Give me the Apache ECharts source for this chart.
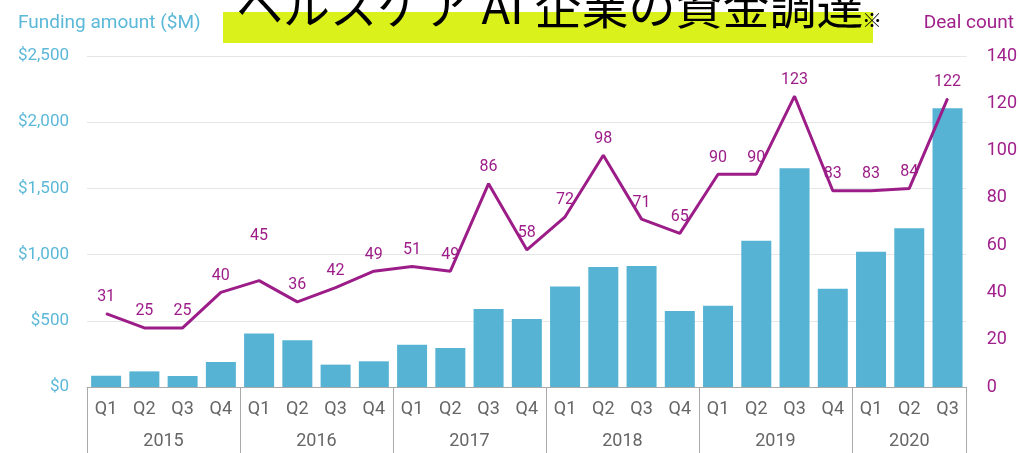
<!DOCTYPE html>
<html>
<head>
<meta charset="utf-8">
<script src="https://cdn.jsdelivr.net/npm/echarts@6/dist/echarts.min.js"></script>
<style>
  html, body { margin: 0; padding: 0; background: #fff; }
  #chart { width: 1020px; height: 453px; }
</style>
</head>
<body>
<div id="chart"></div>
<script>
// 四半期ごとのラベル
const quarters = ['Q1', 'Q2', 'Q3', 'Q4', 'Q1', 'Q2', 'Q3', 'Q4', 'Q1', 'Q2', 'Q3', 'Q4',
  'Q1', 'Q2', 'Q3', 'Q4', 'Q1', 'Q2', 'Q3', 'Q4', 'Q1', 'Q2', 'Q3'];
const years = ['2015', '2016', '2017', '2018', '2019', '2020'];
const quartersPerYear = [4, 4, 4, 4, 4, 3];

// 資金調達額 ($M)
const funding = [85, 118, 83, 189, 405, 353, 169, 194, 320, 295, 589, 514,
  760, 906, 914, 574, 614, 1105, 1652, 742, 1022, 1199, 2105];
// 案件数
const deals = [31, 25, 25, 40, 45, 36, 42, 49, 51, 49, 86, 58,
  72, 98, 71, 65, 90, 90, 123, 83, 83, 84, 122];

const leftTicks = [0, 500, 1000, 1500, 2000, 2500];
const rightTicks = [0, 20, 40, 60, 80, 100, 120, 140];

const blue = '#56b3d4';
const purple = '#9c1d88';
const font = 'Roboto';

// 年の境界（四半期インデックス）と年ラベルの中心位置
const yearStarts = [];
const yearCenters = [];
let acc = 0;
quartersPerYear.forEach(function (n) {
  yearStarts.push(acc);
  yearCenters.push(acc + n / 2);
  acc += n;
});

const chart = echarts.init(document.getElementById('chart'));

const options = {
  animation: false,
  textStyle: { fontFamily: font },
  grid: { left: 87, right: 53, top: 56, bottom: 66 },
  graphic: [
    { type: 'rect', shape: { x: 223, y: 12, width: 650, height: 31 }, style: { fill: '#dbf11b' }, z: 0 },
    { type: 'text', x: 236, y: 6, z: 1,
      style: { text: 'ヘルスケア AI 企業の資金調達', font: '47px "Noto Sans CJK JP"', fill: '#000', verticalAlign: 'middle', align: 'left' } },
    { type: 'text', x: 872, y: 20, z: 1,
      style: { text: '※', font: '20px "Noto Sans CJK JP"', fill: '#000', verticalAlign: 'middle', align: 'center' } },
    { type: 'text', x: 18, y: 23, z: 1,
      style: { text: 'Funding amount ($M)', font: '19px Roboto', fill: '#5bb8d9', verticalAlign: 'middle', align: 'left' } },
    { type: 'text', x: 1014, y: 23, z: 1,
      style: { text: 'Deal count', font: '19px Roboto', fill: '#a0208c', verticalAlign: 'middle', align: 'right' } }
  ],
  xAxis: [
    {
      type: 'category',
      data: quarters,
      position: 'bottom',
      axisLine: { onZero: false, lineStyle: { color: '#aaa', width: 1 } },
      axisTick: {
        show: true,
        length: 66,
        interval: function (index) { return yearStarts.indexOf(index) >= 0; },
        lineStyle: { color: '#aaa', width: 1 }
      },
      axisLabel: { interval: 0, margin: 13, color: '#666', fontSize: 18, fontFamily: font }
    },
    {
      type: 'value',
      position: 'bottom',
      min: 0,
      max: quarters.length,
      interval: 0.5,
      axisLine: { show: false, onZero: false },
      axisTick: { show: false },
      splitLine: { show: false },
      axisLabel: {
        margin: 45,
        color: '#666',
        fontSize: 18,
        fontFamily: font,
        showMinLabel: true,
        showMaxLabel: true,
        formatter: function (v) {
          const i = yearCenters.indexOf(v);
          return i >= 0 ? years[i] : '';
        }
      }
    }
  ],
  yAxis: [
    {
      type: 'value',
      min: leftTicks[0],
      max: leftTicks[leftTicks.length - 1],
      interval: leftTicks[1] - leftTicks[0],
      axisLine: { show: false },
      axisTick: { show: false },
      splitLine: { lineStyle: { color: '#e6e6e6' } },
      axisLabel: {
        margin: 18,
        color: '#5bb8d9',
        fontSize: 17,
        fontFamily: font,
        formatter: function (v) { return '$' + v.toLocaleString('en-US'); }
      }
    },
    {
      type: 'value',
      position: 'right',
      min: rightTicks[0],
      max: rightTicks[rightTicks.length - 1],
      interval: rightTicks[1] - rightTicks[0],
      axisLine: { show: false },
      axisTick: { show: false },
      splitLine: { show: false },
      axisLabel: { margin: 20, color: '#a0208c', fontSize: 18, fontFamily: font }
    }
  ],
  series: [
    {
      name: 'Funding amount ($M)',
      type: 'bar',
      data: funding,
      barWidth: 30,
      itemStyle: { color: blue },
      z: 2
    },
    {
      name: 'Deal count',
      type: 'line',
      yAxisIndex: 1,
      data: deals.map(function (v, i) {
        // 2016 Q1 のラベルだけ高い位置にある
        return i === 4 ? { value: v, label: { distance: 36 } } : v;
      }),
      showSymbol: true,
      symbol: 'circle',
      symbolSize: 1,
      lineStyle: { color: purple, width: 3 },
      itemStyle: { color: purple },
      label: { show: true, position: 'top', distance: 8, color: purple, fontSize: 16, fontFamily: font },
      z: 3
    }
  ]
};

chart.setOption(options);
</script>
</body>
</html>
